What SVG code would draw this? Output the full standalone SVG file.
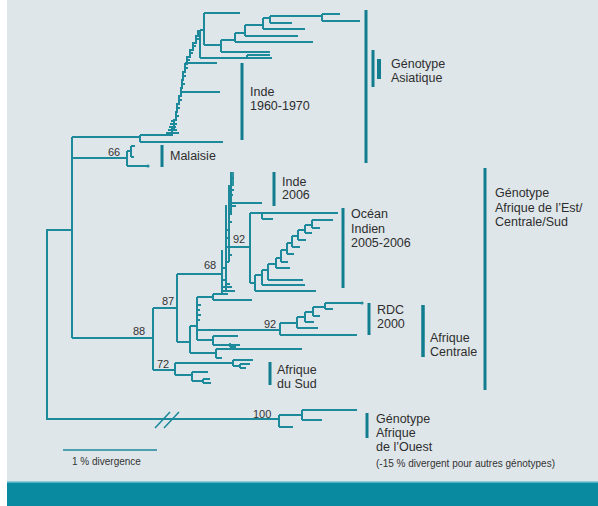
<svg xmlns="http://www.w3.org/2000/svg" width="598" height="506" viewBox="0 0 598 506">
<style>
.b{fill:none;stroke:#1c8a9b;stroke-width:2;stroke-linecap:butt}
.k{fill:none;stroke:#1c8a9b;stroke-width:1.8}
.bar{fill:none;stroke:#127d8e;stroke-width:3}
.t{font-family:"Liberation Sans",Arial,sans-serif;font-size:12.5px;fill:#2e2e2e}
.n{font-family:"Liberation Sans",Arial,sans-serif;font-size:11px;fill:#333}
.s{font-family:"Liberation Sans",Arial,sans-serif;font-size:10px;fill:#333}
</style>
<rect x="0" y="0" width="598" height="506" fill="#ffffff"/>
<rect x="7" y="0" width="591" height="482" fill="#dfe6ea"/>
<rect x="7" y="482" width="591" height="24" fill="#0a8aa1"/>
<line x1="7" y1="482" x2="598" y2="482" stroke="#6cc3d1" stroke-width="1.5"/>

<g id="connectors">
  <!-- backbone -->
  <path class="b" d="M72,230 H47 V419 H279"/>
  <path class="b" d="M279,415 V427 M279,427 H293 M279,415 H302 M302,410 V420 M302,410 H357 M302,420 H322"/>
  <path d="M155,428 L170,412 M164,428 L179,412" stroke="#1c8a9b" stroke-width="1.6" fill="none"/>
  <path class="b" d="M72,137 V338"/>
  <!-- Malaisie clade -->
  <path class="b" d="M72,158 H127 M127,151 V166 M127,151 H131 M131,146 V157 M131,146 H135 M131,157 H134 M127,166 H148"/>
  <circle cx="148" cy="166" r="1.6" fill="#1c8a9b"/>
  <!-- Asian clade -->
  <path class="b" d="M72,137 H140 M140,135 V142 M140,142 H223 M140,135 H172"/>
  <path class="k" d="M168,130 H177 M166,133 H179 M169,127 H176 M170,124 H175 M171,121 H175"/>
  <path class="b" d="M172,136 V128 H174 V120 H176 V112 H177 V104 H179 V96 H181 V88 H182 V80 H183 V72 H185 V64 H187 V57 H190 V50 H193 V43 H196 V36 H198 V30" stroke-width="2.6"/>
  <path class="k" d="M174,124 H177 M176,116 H179 M177,108 H180 M179,100 H182 M182,84 H185 M183,76 H186 M185,68 H188 M187,60 H190 M190,53 H193 M193,46 H196 M196,39 H199"/>
  <path class="b" d="M181,92 H220 M185,63 H217"/>
  <path class="b" d="M200,30 V58 M200,58 H272 M247,55 H270 M247,55 V58 M200,30 H204 M204,13 V45 M204,13 H240 M204,45 H221 M221,40 V52 M221,52 H270 M221,40 H235 M235,33 V42 M235,42 H313 M235,33 H245 M245,25 V36 M245,36 H298 M245,25 H263 M263,18 V29 M263,29 H305 M263,18 H270 M270,16 V23 M270,23 H292 M270,16 H322 M322,14 V21 M322,14 H340 M322,21 H360"/>
  <!-- Afrique de l'Est / Centrale / Sud -->
  <path class="b" d="M72,338 H153 M153,308 V370 M153,308 H177 M153,370 H175 M177,274 V342 M177,274 H222"/>
  <!-- 68 comb -->
  <path class="b" d="M222,250 V295 M226,205 V292 M229,185 V262 M231,172 V215" stroke-width="2.4"/>
  <path class="k" d="M233,172 V186 M231,178 H234 M231,190 H234 M229,195 H233 M229,206 H236 M229,212 H232 M229,222 H232 M226,230 H230 M226,238 H230 M229,255 H232 M226,262 H229 M222,268 H226 M222,280 H226 M226,284 H230"/>
  <path class="b" d="M229,203 H262 M222,287 H232 M222,291 H235"/>
  <path class="b" d="M226,247 H250 M250,213 V283 M250,213 H338 M262,213 V219 M262,219 H273 M250,283 H255"/>
  <path class="b" d="M255,275 V291 M255,291 H316 M255,275 H262 M262,270 V285 M262,285 H305 M262,270 H268 M268,264 V280 M268,280 H303 M268,264 H276 M276,258 V268 M276,268 H290 M276,258 H281 M281,250 V262 M281,262 H288 M281,250 H287 M287,243 V254 M287,254 H294 M287,243 H292 M292,236 V247 M292,247 H300 M292,236 H298 M298,230 V240 M298,240 H306 M298,230 H305 M305,225 V233 M305,233 H312 M305,225 H312 M312,220 V228 M312,228 H320 M312,220 H333"/>
  <!-- Central Africa -->
  <path class="b" d="M177,342 H190 M190,326 V353 M190,326 H197 M190,353 H216 M216,349 V358 M216,349 H302 M216,358 H222 M197,297 V340 M197,297 H213 M213,294 V300 M213,294 H228 M213,300 H252 M197,330 H280 M197,340 H213 M213,336 V345 M213,336 H238 M213,345 H240"/>
  <path class="k" d="M197,305 H201 M197,310 H200 M197,315 H201 M197,320 H200 M230,343 V347 M230,347 H236"/>
  <path class="b" d="M280,323 V335 M280,335 H357 M280,323 H297 M297,317 V328 M297,328 H318 M297,317 H305 M305,312 V322 M305,322 H314 M305,312 H313 M313,307 V316 M313,316 H320 M313,307 H325 M325,303 V309 M325,303 H362 M325,309 H333"/>
  <circle cx="362" cy="303" r="1.6" fill="#1c8a9b"/>
  <!-- Afrique du Sud -->
  <path class="b" d="M175,363 V375 M175,363 H233 M233,360 V366 M233,360 H253 M233,366 H240 M240,364 V368 M240,364 H250 M240,368 H246 M175,375 H192 M192,372 V381 M192,372 H208 M192,381 H203 M203,379 V383 M203,379 H210 M203,383 H211"/>
  <!-- scale bar -->
  <line x1="63" y1="450" x2="157" y2="450" stroke="#1c8a9b" stroke-width="1.5"/>
</g>

<g id="n-asiatique">
  <line class="bar" x1="366" y1="10" x2="366" y2="163"/>
  <line class="bar" x1="373" y1="50" x2="373" y2="87"/>
  <line x1="379" y1="59" x2="379" y2="79" stroke="#127d8e" stroke-width="4"/>
  <text class="t" x="391" y="68">Génotype</text>
  <text class="t" x="391" y="82">Asiatique</text>
</g>
<g id="n-inde1960">
  <line class="bar" x1="242" y1="63" x2="242" y2="140" stroke-width="2.5"/>
  <text class="t" x="250" y="96">Inde</text>
  <text class="t" x="250" y="110">1960-1970</text>
</g>
<g id="n-malaisie">
  <line class="bar" x1="162" y1="145" x2="162" y2="167" stroke-width="2.5"/>
  <text class="t" x="170" y="160">Malaisie</text>
</g>
<g id="n-inde2006">
  <line class="bar" x1="274" y1="172" x2="274" y2="206" stroke-width="2.5"/>
  <text class="t" x="282" y="186">Inde</text>
  <text class="t" x="282" y="199">2006</text>
</g>
<g id="n-ocean">
  <line class="bar" x1="343" y1="208" x2="343" y2="288" stroke-width="2.5"/>
  <text class="t" x="351" y="218">Océan</text>
  <text class="t" x="351" y="233">Indien</text>
  <text class="t" x="351" y="247">2005-2006</text>
</g>
<g id="n-ecsa">
  <line class="bar" x1="485" y1="168" x2="485" y2="390"/>
  <text class="t" x="495" y="197">Génotype</text>
  <text class="t" x="495" y="212">Afrique de l’Est/</text>
  <text class="t" x="495" y="226">Centrale/Sud</text>
</g>
<g id="n-rdc">
  <line class="bar" x1="369" y1="303" x2="369" y2="335"/>
  <text class="t" x="377" y="314">RDC</text>
  <text class="t" x="377" y="328">2000</text>
</g>
<g id="n-centrale">
  <line x1="423" y1="305" x2="423" y2="357" stroke="#127d8e" stroke-width="3.5"/>
  <text class="t" x="430" y="342">Afrique</text>
  <text class="t" x="430" y="356">Centrale</text>
</g>
<g id="n-sud">
  <line class="bar" x1="270" y1="362" x2="270" y2="385" stroke-width="2.5"/>
  <text class="t" x="277" y="374">Afrique</text>
  <text class="t" x="277" y="388">du Sud</text>
</g>
<g id="n-ouest">
  <line class="bar" x1="367" y1="413" x2="367" y2="438"/>
  <text class="t" x="376" y="423">Génotype</text>
  <text class="t" x="376" y="437">Afrique</text>
  <text class="t" x="376" y="451">de l’Ouest</text>
  <text class="s" x="376" y="467">(-15 % divergent pour autres génotypes)</text>
</g>
<g id="n-scale">
  <text class="s" x="72" y="465">1 % divergence</text>
</g>
<g id="bootstrap">
  <text class="n" x="108" y="156">66</text>
  <text class="n" x="233" y="243">92</text>
  <text class="n" x="204" y="269">68</text>
  <text class="n" x="162" y="305">87</text>
  <text class="n" x="133" y="335">88</text>
  <text class="n" x="157" y="368">72</text>
  <text class="n" x="264" y="328">92</text>
  <text class="n" x="253" y="418">100</text>
</g>
</svg>
